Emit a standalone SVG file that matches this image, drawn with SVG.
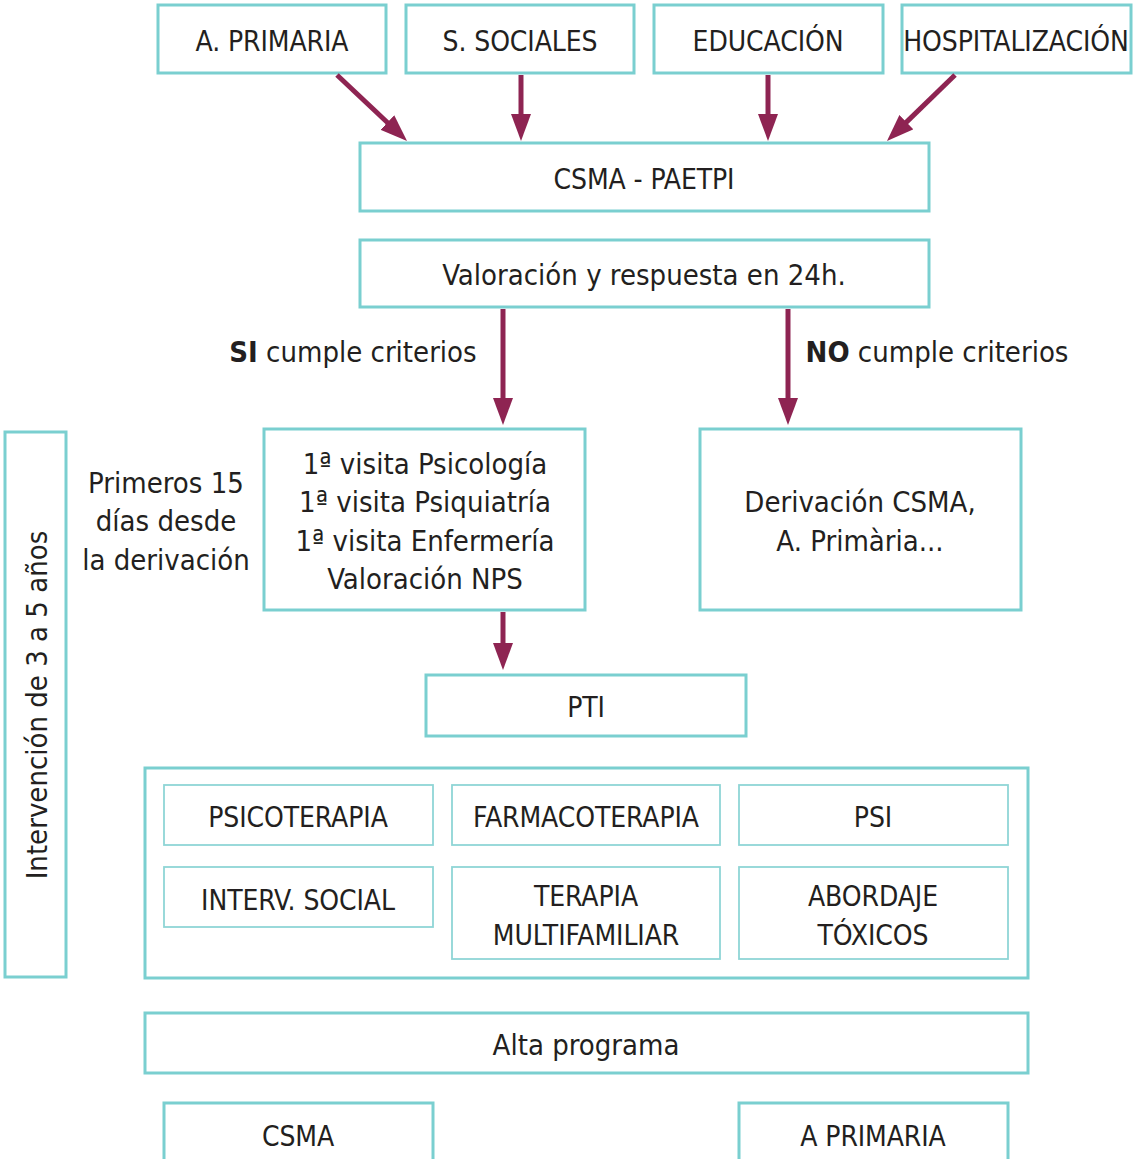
<svg xmlns="http://www.w3.org/2000/svg" width="1139" height="1159" viewBox="0 0 1139 1159">
<defs>
<marker id="ah" markerUnits="userSpaceOnUse" markerWidth="27" markerHeight="20" refX="15" refY="10" orient="auto">
<path d="M0,0 L27,10 L0,20 z" fill="#8E2452"/>
</marker>
<style>
.b{fill:#fff;stroke:#7ACFD0;stroke-width:3}
.i{fill:#fff;stroke:#8FD5D6;stroke-width:1.8}
.t{font-family:"Liberation Sans Narrow","DejaVu Sans Condensed","Roboto Condensed",sans-serif;font-size:29px;fill:#231F20;text-anchor:middle}
.k{font-size:28px;letter-spacing:-0.1px}
.c{stroke:#8E2452;stroke-width:5;fill:none;marker-end:url(#ah)}
</style>
</defs>
<rect width="1139" height="1159" fill="#fff"/>
<g id="n-aprimaria"><rect class="b" x="158" y="5" width="228" height="68"/><text class="t k" x="272" y="51">A. PRIMARIA</text></g>
<g id="n-ssociales"><rect class="b" x="406" y="5" width="228" height="68"/><text class="t k" x="520" y="51">S. SOCIALES</text></g>
<g id="n-educacion"><rect class="b" x="654" y="5" width="229" height="68"/><text class="t k" x="768" y="51">EDUCACIÓN</text></g>
<g id="n-hosp"><rect class="b" x="902" y="5" width="229" height="68"/><text class="t k" x="1016" y="51">HOSPITALIZACIÓN</text></g>
<g id="n-csma-paetpi"><rect class="b" x="360" y="143" width="569" height="68"/><text class="t k" x="644" y="189">CSMA - PAETPI</text></g>
<g id="n-valoracion"><rect class="b" x="360" y="240" width="569" height="67"/><text class="t" x="644" y="285">Valoración y respuesta en 24h.</text></g>
<g id="l-si"><text class="t" x="353" y="362"><tspan font-weight="bold">SI</tspan> cumple criterios</text></g>
<g id="l-no"><text class="t" x="937" y="362"><tspan font-weight="bold">NO</tspan> cumple criterios</text></g>
<g id="n-intervencion"><rect class="b" x="5" y="432" width="61" height="545"/><text class="t" transform="translate(47,705) rotate(-90)">Intervención de 3 a 5 años</text></g>
<g id="l-primeros"><text class="t" x="166" y="493">Primeros 15</text><text class="t" x="166" y="531">días desde</text><text class="t" x="166" y="570">la derivación</text></g>
<g id="n-visitas"><rect class="b" x="264" y="429" width="321" height="181"/>
<text class="t" x="425" y="474">1ª visita Psicología</text>
<text class="t" x="425" y="512">1ª visita Psiquiatría</text>
<text class="t" x="425" y="551">1ª visita Enfermería</text>
<text class="t" x="425" y="589">Valoración NPS</text></g>
<g id="n-derivacion"><rect class="b" x="700" y="429" width="321" height="181"/>
<text class="t" x="860" y="512">Derivación CSMA,</text>
<text class="t" x="860" y="551">A. Primària...</text></g>
<g id="n-pti"><rect class="b" x="426" y="675" width="320" height="61"/><text class="t k" x="586" y="717">PTI</text></g>
<g id="n-container"><rect class="b" x="145" y="768" width="883" height="210"/></g>
<g id="n-psicoterapia"><rect class="i" x="164" y="785" width="269" height="60"/><text class="t k" x="298" y="827">PSICOTERAPIA</text></g>
<g id="n-farmaco"><rect class="i" x="452" y="785" width="268" height="60"/><text class="t k" x="586" y="827">FARMACOTERAPIA</text></g>
<g id="n-psi"><rect class="i" x="739" y="785" width="269" height="60"/><text class="t k" x="873" y="827">PSI</text></g>
<g id="n-social"><rect class="i" x="164" y="867" width="269" height="60"/><text class="t k" x="298" y="910">INTERV. SOCIAL</text></g>
<g id="n-terapia"><rect class="i" x="452" y="867" width="268" height="92"/><text class="t k" x="586" y="906">TERAPIA</text><text class="t k" x="586" y="945">MULTIFAMILIAR</text></g>
<g id="n-abordaje"><rect class="i" x="739" y="867" width="269" height="92"/><text class="t k" x="873" y="906">ABORDAJE</text><text class="t k" x="873" y="945">TÓXICOS</text></g>
<g id="n-alta"><rect class="b" x="145" y="1013" width="883" height="60"/><text class="t" x="586" y="1055">Alta programa</text></g>
<g id="n-csma"><rect class="b" x="164" y="1103" width="269" height="80"/><text class="t k" x="298" y="1146">CSMA</text></g>
<g id="n-aprim2"><rect class="b" x="739" y="1103" width="269" height="80"/><text class="t k" x="873" y="1146">A PRIMARIA</text></g>
<g id="connectors">
<line class="c" x1="337" y1="75" x2="398.3" y2="132.8"/>
<line class="c" x1="521" y1="75" x2="521" y2="129"/>
<line class="c" x1="768" y1="75" x2="768" y2="129"/>
<line class="c" x1="955" y1="75" x2="895.6" y2="132.6"/>
<line class="c" x1="503" y1="309" x2="503" y2="413"/>
<line class="c" x1="788" y1="309" x2="788" y2="413"/>
<line class="c" x1="503" y1="612" x2="503" y2="658"/>
</g>
</svg>
